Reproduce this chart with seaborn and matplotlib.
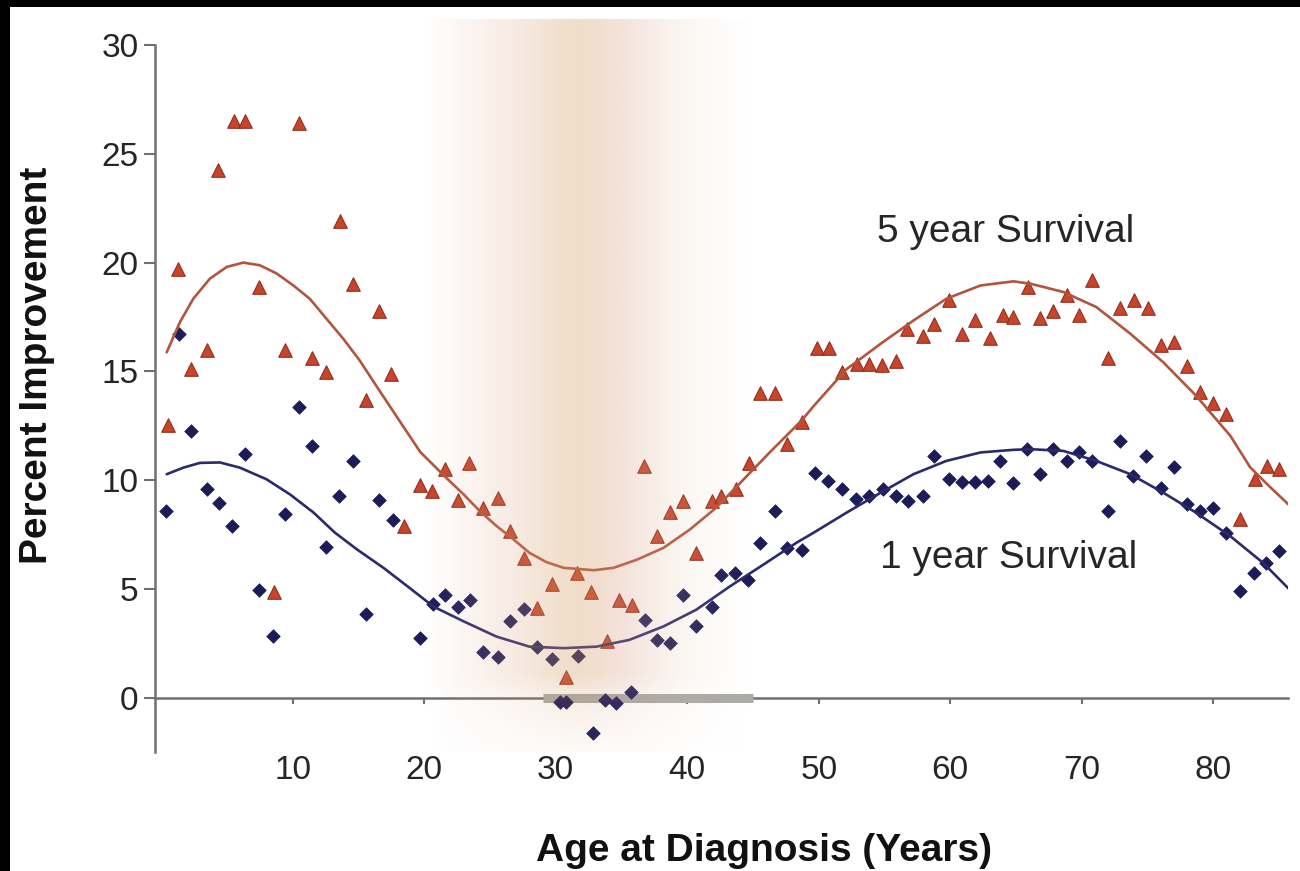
import numpy as np
import matplotlib
matplotlib.use("Agg")
import matplotlib.pyplot as plt
from matplotlib.colors import LinearSegmentedColormap
from matplotlib.patches import Rectangle
import seaborn as sns

# ---- data -------------------------------------------------------------
five_year_age = [0.5, 1.3, 2.3, 3.45, 4.35, 5.5, 6.4, 7.4, 8.6, 9.4, 10.5, 11.5,
                 12.5, 13.6, 14.6, 15.6, 16.6, 17.5, 18.5, 19.7, 20.6, 21.6, 22.6,
                 23.4, 24.5, 25.6, 26.5, 27.6, 28.6, 29.7, 30.8, 31.6, 32.7, 33.9,
                 34.8, 35.8, 36.7, 37.7, 38.7, 39.7, 40.7, 41.9, 42.6, 43.7, 44.7,
                 45.5, 46.7, 47.6, 48.7, 49.9, 50.8, 51.8, 52.9, 53.8, 54.8, 55.9,
                 56.7, 57.9, 58.8, 59.9, 60.9, 61.9, 63.0, 64.0, 64.8, 65.9, 66.8,
                 67.8, 68.9, 69.8, 70.8, 72.0, 72.9, 74.0, 75.0, 76.0, 77.0, 78.0,
                 79.0, 80.0, 81.0, 82.0, 83.2, 84.1, 85.0]
five_year_pct = [12.55, 19.7, 15.1, 16.0, 24.25, 26.5, 26.5, 18.9, 4.87, 16.0, 26.4,
                 15.6, 14.96, 21.9, 19.0, 13.7, 17.8, 14.9, 7.9, 9.8, 9.5, 10.5, 9.1,
                 10.8, 8.74, 9.2, 7.66, 6.44, 4.13, 5.25, 0.98, 5.75, 4.85, 2.6, 4.5,
                 4.29, 10.66, 7.43, 8.54, 9.05, 6.67, 9.05, 9.28, 9.6, 10.8, 14.0,
                 14.0, 11.66, 12.7, 16.1, 16.1, 14.96, 15.35, 15.35, 15.3, 15.5,
                 16.96, 16.65, 17.2, 18.3, 16.7, 17.35, 16.54, 17.6, 17.5, 18.9,
                 17.45, 17.8, 18.5, 17.6, 19.2, 15.6, 17.9, 18.3, 17.9, 16.2, 16.35,
                 15.24, 14.04, 13.55, 13.04, 8.2, 10.05, 10.66, 10.5]

one_year_age = [0.4, 1.35, 2.3, 3.5, 4.36, 5.4, 6.4, 7.4, 8.5, 9.4, 10.5, 11.5, 12.5,
                13.55, 14.6, 15.6, 16.6, 17.6, 19.7, 20.65, 21.6, 22.6, 23.45, 24.5,
                25.6, 26.5, 27.6, 28.6, 29.7, 30.3, 30.8, 31.7, 32.8, 33.75, 34.6,
                35.7, 36.8, 37.7, 38.7, 39.7, 40.7, 41.9, 42.6, 43.6, 44.6, 45.5,
                46.7, 47.6, 48.7, 49.7, 50.7, 51.8, 52.8, 53.8, 54.9, 55.9, 56.8,
                57.9, 58.8, 59.9, 60.9, 61.9, 62.9, 63.8, 64.75, 65.8, 66.8, 67.8,
                68.9, 69.8, 70.8, 72.0, 72.9, 73.9, 74.9, 76.0, 77.0, 78.0, 79.0,
                80.0, 81.0, 82.0, 83.1, 84.0, 85.0]
one_year_pct = [8.58, 16.7, 12.27, 9.58, 8.97, 7.9, 11.2, 4.95, 2.86, 8.47, 13.35,
                11.58, 6.93, 9.28, 10.9, 3.86, 9.09, 8.17, 2.75, 4.3, 4.72, 4.2, 4.5,
                2.13, 1.9, 3.52, 4.09, 2.36, 1.8, -0.17, -0.17, 1.95, -1.63, -0.1,
                -0.24, 0.29, 3.6, 2.67, 2.52, 4.75, 3.29, 4.2, 5.67, 5.75, 5.44, 7.13,
                8.59, 6.9, 6.82, 10.35, 9.97, 9.58, 9.12, 9.28, 9.58, 9.28, 9.05,
                9.28, 11.12, 10.05, 9.9, 9.9, 9.97, 10.9, 9.86, 11.43, 10.28, 11.43,
                10.9, 11.3, 10.9, 8.59, 11.81, 10.2, 11.12, 9.66, 10.63, 8.89, 8.59,
                8.74, 7.59, 4.9, 5.75, 6.2, 6.74]

# fitted trend curves
trend5_age = [0.42, 1.43, 2.44, 3.7, 4.98, 6.24, 7.5, 8.78, 10.05, 11.3, 12.6, 13.85,
              15.1, 16.4, 18.2, 19.7, 21.7, 23.0, 24.2, 25.5, 26.8, 28.0, 29.3, 30.6,
              32.9, 34.4, 36.2, 38.2, 40.2, 42.2, 44.3, 46.3, 48.7, 49.6, 52.1, 54.7,
              57.2, 59.7, 62.3, 64.8, 66.1, 68.6, 71.1, 73.7, 76.2, 78.7, 81.3, 82.8,
              84.3, 85.7]
trend5_pct = [15.88, 17.27, 18.34, 19.26, 19.8, 20.0, 19.88, 19.5, 18.95, 18.34, 17.4,
              16.5, 15.5, 14.3, 12.66, 11.3, 10.1, 9.35, 8.6, 7.9, 7.28, 6.67, 6.24,
              5.98, 5.87, 5.98, 6.36, 6.9, 7.74, 8.74, 10.05, 11.3, 12.75, 13.4, 15.1,
              16.27, 17.34, 18.34, 18.95, 19.14, 19.03, 18.65, 17.96, 16.73, 15.42,
              13.88, 12.04, 10.6, 9.7, 8.9]

trend1_age = [0.42, 1.68, 2.95, 4.47, 5.99, 8.0, 9.8, 11.6, 13.2, 14.9, 16.9, 18.9,
              20.7, 23.0, 25.5, 28.0, 30.6, 33.1, 35.6, 38.2, 40.7, 43.25, 45.8, 48.3,
              49.6, 52.1, 54.7, 57.2, 59.7, 62.3, 64.8, 66.1, 68.6, 71.1, 73.7, 76.2,
              78.7, 81.3, 83.8, 85.8]
trend1_pct = [10.28, 10.58, 10.8, 10.82, 10.58, 10.05, 9.35, 8.51, 7.6, 6.82, 5.98,
              5.05, 4.2, 3.52, 2.82, 2.36, 2.29, 2.36, 2.67, 3.29, 4.06, 5.13, 6.13,
              7.13, 7.59, 8.51, 9.43, 10.28, 10.89, 11.28, 11.4, 11.43, 11.35, 10.89,
              10.28, 9.43, 8.51, 7.43, 6.2, 4.98]

x_ticks = [10, 20, 30, 40, 50, 60, 70, 80]
y_ticks = [0, 5, 10, 15, 20, 25, 30]
shaded_ages = [20.2, 44.8]      # age window behind the trough
marked_ages = [29, 45]          # grey bar on the zero line

# ---- style ------------------------------------------------------------
sns.set_style("white")
plt.rcParams["font.family"] = ["Liberation Sans", "DejaVu Sans"]

tri_face = "#c6452c"
tri_edge = "#952d1b"
dia_face = "#1c1c58"
line5 = "#b2553c"
line1 = "#2a2a6c"
axis_col = "#707070"
text_col = "#262626"

fig = plt.figure(figsize=(13, 8.71), dpi=100)
fig.patch.set_facecolor("white")
ax = fig.add_axes([155 / 1300, 1 - 754.6 / 871, 1133 / 1300, (754.6 - 18.8) / 871])
ax.set_facecolor("none")

xlim = (-0.47, 85.68)
ylim = (-2.6, 31.2)

# grey bar on the zero line
ax.plot(marked_ages, [0, 0], color="#aaaaa6", lw=6.5, solid_capstyle="butt", zorder=2)

# points
sns.scatterplot(x=five_year_age, y=five_year_pct, marker="^", s=95, color=tri_face,
                edgecolor=tri_edge, linewidth=0.8, ax=ax, zorder=3)
sns.scatterplot(x=one_year_age, y=one_year_pct, marker="D", s=48, color=dia_face,
                edgecolor=dia_face, linewidth=0.5, ax=ax, zorder=3)

# trend curves
sns.lineplot(x=trend5_age, y=trend5_pct, sort=False, estimator=None, color=line5,
             lw=1.9, ax=ax, zorder=3)
sns.lineplot(x=trend1_age, y=trend1_pct, sort=False, estimator=None, color=line1,
             lw=1.9, ax=ax, zorder=3)

# translucent vertical gradient band over the trough
nx, ny = 300, 200
fx = np.linspace(0, 1, nx)
rgb_cmap = LinearSegmentedColormap.from_list(
    "band_rgb", [(0.0, "#e2ab92"), (0.3, "#dca277"), (0.47, "#d49a5c"),
                 (0.62, "#d99a84"), (0.8, "#dfbf9c"), (1.0, "#e6d3bd")])
alpha_x = np.interp(fx, [0, 0.1, 0.28, 0.42, 0.52, 0.65, 0.82, 1.0],
                    [0.0, 0.1, 0.23, 0.33, 0.33, 0.25, 0.12, 0.0])
ys = np.linspace(-2.5, ylim[1], ny)
alpha_y = np.interp(ys, [-2.5, -0.3, 1.0, 40], [0.15, 0.45, 1.0, 1.0])
rgba = np.zeros((ny, nx, 4))
rgba[..., :3] = rgb_cmap(fx)[None, :, :3]
rgba[..., 3] = alpha_y[:, None] * alpha_x[None, :]
ax.imshow(rgba, extent=[shaded_ages[0], shaded_ages[1], -2.5, ylim[1]],
          origin="lower", aspect="auto", interpolation="bilinear", zorder=4)

ax.set_xlim(*xlim)
ax.set_ylim(*ylim)

# axes
for side in ("top", "right"):
    ax.spines[side].set_visible(False)
ax.spines["left"].set_bounds(-2.5, 30)
ax.spines["left"].set_color(axis_col)
ax.spines["left"].set_linewidth(1.8)
ax.spines["bottom"].set_position(("data", 0))
ax.spines["bottom"].set_color(axis_col)
ax.spines["bottom"].set_linewidth(1.8)
ax.spines["bottom"].set_zorder(1)

ax.set_xticks(x_ticks)
ax.set_yticks(y_ticks)
ax.set_xticklabels([str(v) for v in x_ticks])
ax.set_yticklabels([str(v) for v in y_ticks])
ax.tick_params(axis="y", direction="out", length=8, width=1.5, color=axis_col,
               labelsize=24, labelcolor=text_col, pad=4, left=True)
ax.tick_params(axis="x", direction="out", length=4, width=1.5, color=axis_col,
               labelsize=24, labelcolor=text_col, pad=37, bottom=True)
ax.set_xlabel("")
ax.set_ylabel("")

# series labels
ax.text(54.4, 21.4, "5 year Survival", fontsize=28, color=text_col,
        ha="left", va="center")
ax.text(54.65, 6.45, "1 year Survival", fontsize=28, color=text_col,
        ha="left", va="center")

# axis titles
fig.text(37 / 1300, 1 - 365 / 871, "Percent Improvement", rotation=90,
         fontsize=28, fontweight="bold", color="#111111", ha="center", va="center")
fig.text(764 / 1300, 1 - 851 / 871, "Age at Diagnosis (Years)",
         fontsize=28, fontweight="bold", color="#111111", ha="center", va="center")

# black frame strips on top and left
fig.patches.append(Rectangle((0, 1 - 7 / 871), 1, 7 / 871, transform=fig.transFigure,
                             facecolor="black", edgecolor="none", zorder=10))
fig.patches.append(Rectangle((0, 0), 10 / 1300, 1, transform=fig.transFigure,
                             facecolor="black", edgecolor="none", zorder=10))

fig.savefig("out.png", dpi=100, facecolor="white")
